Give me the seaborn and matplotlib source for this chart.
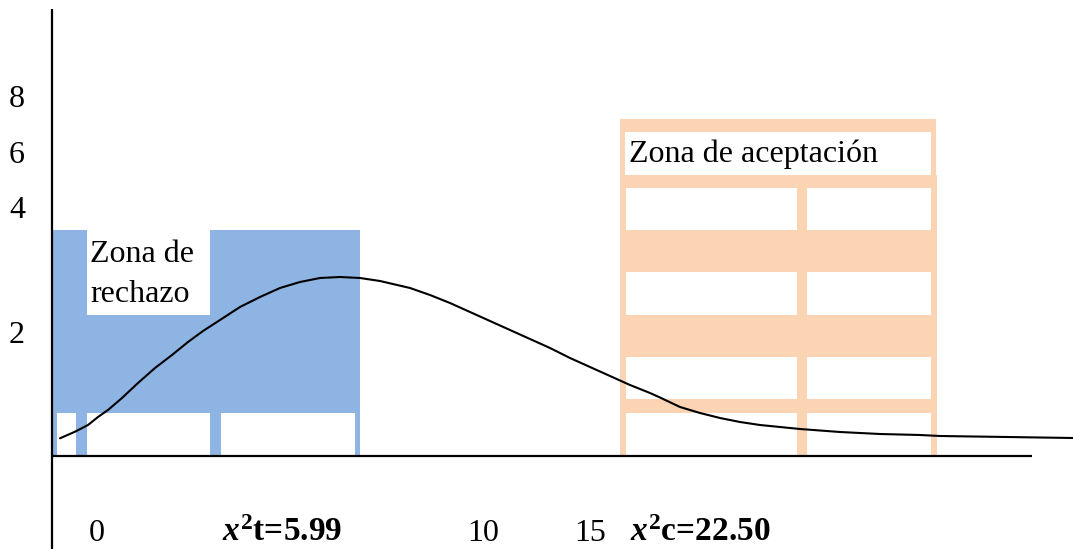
import matplotlib
matplotlib.use("Agg")
import matplotlib.pyplot as plt
import seaborn as sns
import pandas as pd

sns.set_style("white")
plt.rcParams['font.family'] = ['Liberation Serif', 'DejaVu Serif']
plt.rcParams['text.color'] = 'black'
plt.rcParams['mathtext.fontset'] = 'custom'
plt.rcParams['mathtext.it'] = 'Liberation Serif:italic:bold'
plt.rcParams['mathtext.rm'] = 'Liberation Serif:bold'
plt.rcParams['mathtext.bf'] = 'Liberation Serif:bold'

# ---- data (canvas coordinates) ----
curve_x = [60, 75, 88, 98, 108, 122, 138, 155, 172, 188, 203, 220, 240, 260, 280,
           300, 320, 340, 360, 380, 395, 410, 430, 450, 470, 490, 510, 530, 550,
           570, 590, 610, 630, 650, 660, 680, 700, 720, 740, 760, 780, 800, 840,
           880, 920, 940, 1007, 1073]
curve_y = [438.3, 431.7, 425, 417, 410, 398, 383, 368, 355, 342, 331, 320, 307, 297, 288,
           282, 278, 277, 278, 281, 284.5, 288, 295, 303, 312, 321, 330, 339, 348,
           358, 367, 376, 385, 393, 397.5, 407, 413, 418, 422, 425, 427, 429, 432,
           434, 435, 436, 437, 438]

# rejection zone (blue): outer block and white cells (x0, x1, y0, y1)
rej_outer = [(53, 360, 230, 456)]
rej_white = [(87, 210, 230, 315), (57, 76, 413, 456), (87, 210, 413, 456), (221, 355, 413, 456)]
# acceptance zone (orange)
acc_outer = [(620, 936, 119, 175), (620, 937, 175, 456)]
acc_cols = [(626, 797), (807, 931)]
acc_rows = [(188, 230), (272, 315), (357, 399), (413, 456)]
acc_title_box = [(625, 931, 132, 175)]

y_labels = ["8", "6", "4", "2"]
y_label_pos = [107, 163, 218, 343]
x_labels = ["0", "10", "15"]
x_label_pos = [97, 483, 590]
crit_labels = [r"$x^{2}$t=5.99", r"$x^{2}$c=22.50"]
crit_label_pos = [222, 630]

BLUE = "#8EB4E3"
ORANGE = "#FBD4B4"

fig = plt.figure(figsize=(10.73, 5.49), dpi=100)
ax = fig.add_axes([0, 0, 1, 1])


def blocks(rects, color, z):
    for x0, x1, y0, y1 in rects:
        ax.bar(x0, y1 - y0, width=x1 - x0, bottom=y0, align="edge",
               color=color, linewidth=0, zorder=z)


blocks(rej_outer, BLUE, 1)
blocks(rej_white, "white", 2)
blocks(acc_outer, ORANGE, 1)
blocks(acc_title_box, "white", 2)
cells = [(c0, c1, r0, r1) for (c0, c1) in acc_cols for (r0, r1) in acc_rows]
blocks(cells, "white", 2)

# axes lines
ax.plot([52, 52], [9, 549], color="black", lw=1.6, zorder=4, solid_capstyle="butt")
ax.plot([52, 1032], [456, 456], color="black", lw=1.6, zorder=4, solid_capstyle="butt")

# curve
df = pd.DataFrame({"x": curve_x, "y": curve_y})
sns.lineplot(data=df, x="x", y="y", ax=ax, color="black", lw=1.5, zorder=5,
             sort=False, estimator=None)
ax.set_xlim(0, 1073)
ax.set_ylim(549, 0)
ax.axis("off")

FS = 23
ax.text(90, 262, "Zona de", fontsize=FS, va="baseline", ha="left", zorder=6)
ax.text(90, 302, "rechazo", fontsize=FS, va="baseline", ha="left", zorder=6)
ax.text(629, 162, "Zona de aceptación", fontsize=FS, va="baseline", ha="left", zorder=6)

for lab, yp in zip(y_labels, y_label_pos):
    ax.text(17, yp, lab, fontsize=FS, va="baseline", ha="center")
for lab, xp in zip(x_labels, x_label_pos):
    ax.text(xp, 541, lab, fontsize=FS, va="baseline", ha="center")
for lab, xp in zip(crit_labels, crit_label_pos):
    ax.text(xp, 541, lab, fontsize=24, va="baseline", ha="left", fontweight="bold")

fig.savefig("out.png", dpi=100)
